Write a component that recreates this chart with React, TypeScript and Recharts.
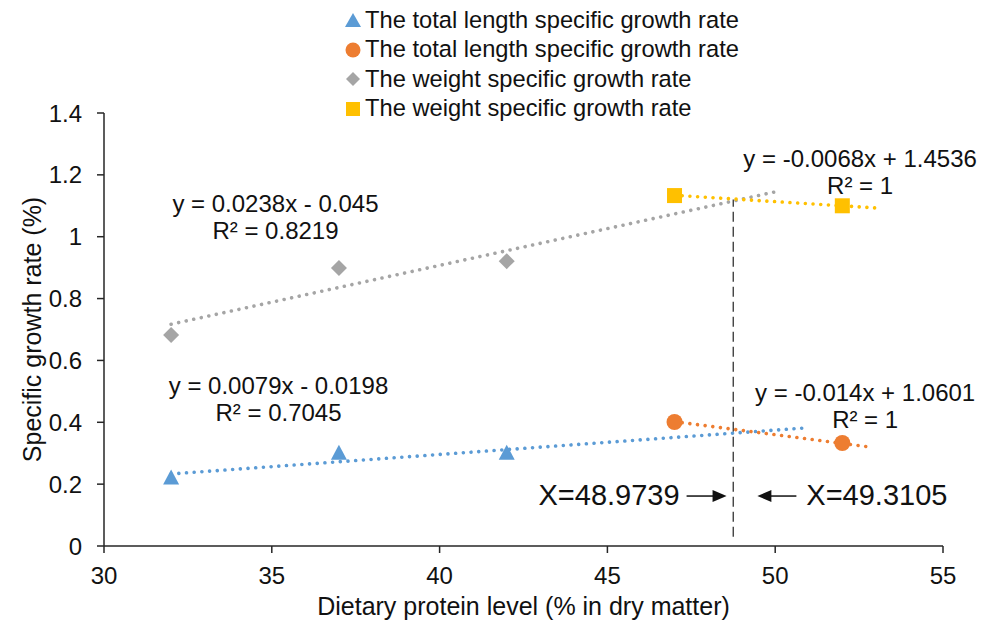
import React from 'react';
import {
  ComposedChart,
  Scatter,
  XAxis,
  YAxis,
  ReferenceLine,
  ReferenceDot,
  Legend,
} from 'recharts';

const FONT = '"Liberation Sans", Arial, Helvetica, sans-serif';
const INK = '#111111';
const AXIS = '#262626';

const BLUE = '#5B9BD5';
const ORANGE = '#ED7D31';
const GRAY = '#A5A5A5';
const YELLOW = '#FFC000';

// Axes
const xTicks = [30, 35, 40, 45, 50, 55];
const yTicks = [0, 0.2, 0.4, 0.6, 0.8, 1, 1.2, 1.4];

// Legend labels
const legendLabels = [
  'The total length specific growth rate',
  'The total length specific growth rate',
  'The weight specific growth rate',
  'The weight specific growth rate',
];

// Series: total length SGR (low protein, triangles)
const lengthLowX = [32, 37, 42];
const lengthLowY = [0.22, 0.3, 0.3];
// Series: total length SGR (high protein, circles)
const lengthHighX = [47, 52];
const lengthHighY = [0.401, 0.333];
// Series: weight SGR (low protein, diamonds)
const weightLowX = [32, 37, 42];
const weightLowY = [0.682, 0.899, 0.921];
// Series: weight SGR (high protein, squares)
const weightHighX = [47, 52];
const weightHighY = [1.133, 1.1];

// Trendline end points
const lengthLowTrendX = [32, 50.8];
const lengthLowTrendY = [0.233, 0.381];
const lengthHighTrendX = [47, 52.9];
const lengthHighTrendY = [0.402, 0.319];
const weightLowTrendX = [32, 50];
const weightLowTrendY = [0.717, 1.145];
const weightHighTrendX = [47, 53];
const weightHighTrendY = [1.134, 1.093];

// Vertical dashed marker
const markerX = 48.75;
const markerYRange = [0.03, 1.12];

// Equation annotations (anchor = centre of first line)
const eqAnchorsX = [35.11, 52.53, 35.2, 52.68];
const eqAnchorsY = [1.109, 1.254, 0.5205, 0.4947];
const eqLines = [
  ['y = 0.0238x - 0.045', 'R² = 0.8219'],
  ['y = -0.0068x + 1.4536', 'R² = 1'],
  ['y = 0.0079x - 0.0198', 'R² = 0.7045'],
  ['y = -0.014x + 1.0601', 'R² = 1'],
];

// Intersection labels
const crossLabelsX = [45.05, 53.03];
const crossLabelsY = [0.168, 0.168];
const crossLabels = ['X=48.9739', 'X=49.3105'];
const crossArrowDir = ['right', 'left'];

const mk = (xs: number[], ys: number[]) => xs.map((x, i) => ({ x, y: ys[i] }));

const triangleShape = (color: string) => (p: any) => {
  const { cx, cy } = p;
  if (cx == null || cy == null) return <g />;
  return (
    <polygon
      points={`${cx},${cy - 8.5} ${cx - 8},${cy + 6.5} ${cx + 8},${cy + 6.5}`}
      fill={color}
    />
  );
};
const circleShape = (color: string) => (p: any) => {
  const { cx, cy } = p;
  if (cx == null || cy == null) return <g />;
  return <circle cx={cx} cy={cy} r={8} fill={color} />;
};
const diamondShape = (color: string) => (p: any) => {
  const { cx, cy } = p;
  if (cx == null || cy == null) return <g />;
  return (
    <polygon
      points={`${cx},${cy - 8} ${cx + 8},${cy} ${cx},${cy + 8} ${cx - 8},${cy}`}
      fill={color}
    />
  );
};
const squareShape = (color: string) => (p: any) => {
  const { cx, cy } = p;
  if (cx == null || cy == null) return <g />;
  return <rect x={cx - 7.5} y={cy - 7.5} width={15} height={15} fill={color} />;
};
const noShape = () => <g />;

const trendLine = (color: string) => ({
  stroke: color,
  strokeWidth: 3.6,
  strokeDasharray: '0.01 7.7',
  strokeLinecap: 'round' as const,
  fill: 'none',
});

const LegendIcon = ({ kind, color }: { kind: string; color: string }) => (
  <svg width={18} height={18} style={{ display: 'block' }}>
    {kind === 'triangle' && <polygon points="9,2 1,16 17,16" fill={color} />}
    {kind === 'circle' && <circle cx={9} cy={9} r={7.5} fill={color} />}
    {kind === 'diamond' && <polygon points="9,2 16,9 9,16 2,9" fill={color} />}
    {kind === 'square' && <rect x={2} y={2} width={14} height={14} fill={color} />}
  </svg>
);

const legendKinds = ['triangle', 'circle', 'diamond', 'square'];
const legendColors = [BLUE, ORANGE, GRAY, YELLOW];

const LegendContent = () => (
  <div style={{ position: 'relative', width: 982, height: 116 }}>
    {legendLabels.map((lab, i) => (
      <div
        key={i}
        style={{
          position: 'absolute',
          left: 336,
          top: 12 + i * 29.5 - 14,
          height: 28,
          display: 'flex',
          alignItems: 'center',
          fontFamily: FONT,
          fontSize: 23.7,
          color: INK,
          whiteSpace: 'nowrap',
        }}
      >
        <LegendIcon kind={legendKinds[i]} color={legendColors[i]} />
        <span style={{ marginLeft: 3 }}>{lab}</span>
      </div>
    ))}
  </div>
);

const eqLabel = (lines: string[]) => (props: any) => {
  const vb = props.viewBox || {};
  const cx = (vb.x ?? 0) + (vb.width ?? 0) / 2;
  const cy = (vb.y ?? 0) + (vb.height ?? 0) / 2;
  return (
    <g>
      {lines.map((t, i) => (
        <text
          key={i}
          x={cx}
          y={cy + i * 27 + 8.5}
          textAnchor="middle"
          fontFamily={FONT}
          fontSize={24}
          fill={INK}
        >
          {t}
        </text>
      ))}
    </g>
  );
};

const crossLabel = (text: string, dir: string) => (props: any) => {
  const vb = props.viewBox || {};
  const cx = (vb.x ?? 0) + (vb.width ?? 0) / 2;
  const cy = (vb.y ?? 0) + (vb.height ?? 0) / 2;
  const half = 70.5;
  let tail: number, tip: number;
  if (dir === 'right') {
    tail = cx + half + 7;
    tip = cx + half + 47;
  } else {
    tail = cx - half - 10;
    tip = cx - half - 49;
  }
  const s = dir === 'right' ? -1 : 1;
  const ay = cy + 2;
  return (
    <g>
      <text
        x={cx}
        y={cy + 10.5}
        textAnchor="middle"
        fontFamily={FONT}
        fontSize={29}
        fill={INK}
      >
        {text}
      </text>
      <line x1={tail} y1={ay} x2={tip + s * 10} y2={ay} stroke={INK} strokeWidth={1.5} />
      <polygon
        points={`${tip},${ay} ${tip + s * 14},${ay - 6} ${tip + s * 14},${ay + 6}`}
        fill={INK}
      />
    </g>
  );
};

export default function App() {
  return (
    <ComposedChart
      width={982}
      height={618}
      margin={{ top: 105, right: 47, bottom: 20, left: 0 }}
      style={{ fontFamily: FONT }}
    >
      <XAxis
        type="number"
        dataKey="x"
        domain={[30, 55]}
        ticks={xTicks}
        interval={0}
        allowDataOverflow
        height={60}
        tickSize={7}
        tickMargin={14}
        axisLine={{ stroke: AXIS, strokeWidth: 1.5 }}
        tickLine={{ stroke: AXIS, strokeWidth: 1.5 }}
        tick={{ fontSize: 24, fill: INK, fontFamily: FONT }}
        label={(props: any) => {
          const vb = props.viewBox || {};
          return (
            <text
              x={(vb.x ?? 0) + (vb.width ?? 0) / 2}
              y={607}
              textAnchor="middle"
              fontFamily={FONT}
              fontSize={25}
              fill={INK}
            >
              Dietary protein level (% in dry matter)
            </text>
          );
        }}
      />
      <YAxis
        type="number"
        dataKey="y"
        domain={[0, 1.4]}
        ticks={yTicks}
        interval={0}
        allowDataOverflow
        width={96}
        tickSize={7}
        tickMargin={15}
        axisLine={{ stroke: AXIS, strokeWidth: 1.5 }}
        tickLine={{ stroke: AXIS, strokeWidth: 1.5 }}
        tick={{ fontSize: 24, fill: INK, fontFamily: FONT }}
        label={() => {
          const cy = 321.5;
          const x = 33;
          return (
            <text
              x={x}
              y={cy}
              transform={`rotate(-90, ${x}, ${cy})`}
              textAnchor="middle"
              fontFamily={FONT}
              fontSize={25}
              fill={INK}
            >
              Specific growth rate (%)
            </text>
          );
        }}
      />
      <Legend
        layout="vertical"
        verticalAlign="middle"
        align="center"
        wrapperStyle={{ top: 0, left: 0, width: 982, height: 116 }}
        content={() => <LegendContent />}
      />

      <ReferenceLine
        segment={[
          { x: markerX, y: markerYRange[0] },
          { x: markerX, y: markerYRange[1] },
        ]}
        stroke="#333333"
        strokeWidth={1.3}
        strokeDasharray="10 5"
      />

      {/* Trendlines */}
      <Scatter
        data={mk(weightLowTrendX, weightLowTrendY)}
        line={trendLine(GRAY)}
        shape={noShape}
        fill={GRAY}
        legendType="none"
        isAnimationActive={false}
      />
      <Scatter
        data={mk(weightHighTrendX, weightHighTrendY)}
        line={trendLine(YELLOW)}
        shape={noShape}
        fill={YELLOW}
        legendType="none"
        isAnimationActive={false}
      />
      <Scatter
        data={mk(lengthLowTrendX, lengthLowTrendY)}
        line={trendLine(BLUE)}
        shape={noShape}
        fill={BLUE}
        legendType="none"
        isAnimationActive={false}
      />
      <Scatter
        data={mk(lengthHighTrendX, lengthHighTrendY)}
        line={trendLine(ORANGE)}
        shape={noShape}
        fill={ORANGE}
        legendType="none"
        isAnimationActive={false}
      />

      {/* Data points */}
      <Scatter
        name={legendLabels[0]}
        data={mk(lengthLowX, lengthLowY)}
        fill={BLUE}
        shape={triangleShape(BLUE)}
        isAnimationActive={false}
      />
      <Scatter
        name={legendLabels[1]}
        data={mk(lengthHighX, lengthHighY)}
        fill={ORANGE}
        shape={circleShape(ORANGE)}
        isAnimationActive={false}
      />
      <Scatter
        name={legendLabels[2]}
        data={mk(weightLowX, weightLowY)}
        fill={GRAY}
        shape={diamondShape(GRAY)}
        isAnimationActive={false}
      />
      <Scatter
        name={legendLabels[3]}
        data={mk(weightHighX, weightHighY)}
        fill={YELLOW}
        shape={squareShape(YELLOW)}
        isAnimationActive={false}
      />

      {/* Annotations */}
      {eqLines.map((lines, i) => (
        <ReferenceDot
          key={`eq${i}`}
          x={eqAnchorsX[i]}
          y={eqAnchorsY[i]}
          r={0}
          fill="none"
          stroke="none"
          label={{ content: eqLabel(lines) } as any}
        />
      ))}
      {crossLabels.map((t, i) => (
        <ReferenceDot
          key={`cx${i}`}
          x={crossLabelsX[i]}
          y={crossLabelsY[i]}
          r={0}
          fill="none"
          stroke="none"
          label={{ content: crossLabel(t, crossArrowDir[i]) } as any}
        />
      ))}
    </ComposedChart>
  );
}
